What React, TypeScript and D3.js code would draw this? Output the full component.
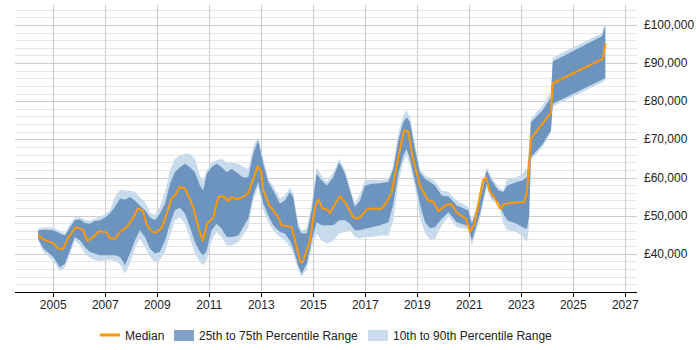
import * as d3 from 'd3';

// Salary percentiles over time (decimal years, GBP)
const bandYears = [
  2004.42, 2004.62, 2005.0, 2005.26, 2005.45, 2005.64, 2005.83, 2006.03, 2006.22, 2006.41,
  2006.6, 2006.8, 2006.99, 2007.18, 2007.37, 2007.57, 2007.76, 2007.95, 2008.14, 2008.33,
  2008.53, 2008.72, 2008.91, 2009.1, 2009.3, 2009.49, 2009.68, 2009.87, 2010.07, 2010.26,
  2010.45, 2010.64, 2010.77, 2010.9, 2011.09, 2011.28, 2011.48, 2011.67, 2011.86, 2012.12,
  2012.3, 2012.5, 2012.69, 2012.88, 2013.08, 2013.27, 2013.46, 2013.72, 2013.91, 2014.1,
  2014.23, 2014.42, 2014.55, 2014.75, 2014.94, 2015.13, 2015.32, 2015.52, 2015.77, 2016.0,
  2016.22, 2016.41, 2016.6, 2016.8, 2016.99, 2017.25, 2017.57, 2017.89, 2018.08, 2018.27,
  2018.46, 2018.59, 2018.72, 2018.91, 2019.1, 2019.3, 2019.49, 2019.68, 2019.94, 2020.2,
  2020.52, 2020.96, 2021.1, 2021.41, 2021.67, 2021.86, 2022.12, 2022.31, 2022.46, 2022.82,
  2023.05, 2023.22, 2023.3, 2023.37, 2023.82, 2024.14, 2024.21, 2026.1, 2026.23,
];

const p10 = [
  43500, 40500, 38100, 35500, 36500, 39900, 43500, 42200, 40100, 39000,
  38300, 38100, 38300, 38300, 38100, 37300, 34800, 37400, 41400, 44000,
  41800, 39200, 37900, 38300, 40500, 44800, 48800, 49600, 47900, 44000,
  40100, 37900, 37000, 38300, 43500, 45700, 44400, 42200, 42200, 43100,
  45000, 47000, 54000, 57500, 51400, 48300, 46200, 44400, 43500, 41800,
  40100, 35700, 33900, 36100, 41800, 45300, 43500, 42700, 43500, 45300,
  45700, 46200, 44400, 44000, 44400, 44400, 44800, 44800, 48800, 58400,
  64000, 65800, 63200, 57500, 49600, 45300, 43800, 43800, 47500, 49800,
  47000, 46500, 42200, 49200, 57500, 54000, 52700, 47900, 46200, 45700,
  44400, 43100, 47000, 64500, 68000, 71900, 78600, 84900, 85500,
];

const p25 = [
  44000, 41400, 39200, 36500, 37400, 40900, 44400, 43500, 41800, 40500,
  40100, 39600, 39600, 39600, 39600, 39200, 37000, 40100, 43500, 46200,
  44400, 41400, 40100, 40500, 43500, 47900, 51400, 52100, 50500, 47000,
  43100, 40500, 39600, 40900, 46200, 47900, 46600, 44400, 44400, 44800,
  47000, 49200, 55300, 58800, 53100, 50100, 47500, 45700, 45300, 43500,
  41400, 37000, 34800, 37400, 43500, 48300, 47500, 47500, 47500, 48800,
  48800, 47900, 46200, 46200, 46600, 47000, 47500, 48300, 53100, 61000,
  65800, 67500, 64900, 59200, 53100, 48300, 46800, 47000, 49200, 50900,
  48300, 47300, 43500, 50500, 58400, 54900, 53600, 50500, 48800, 47900,
  47000, 46600, 50000, 65300, 68800, 72300, 79300, 85600, 86000,
];

const p75 = [
  46200, 46300, 46200, 45300, 44800, 46900, 48800, 49000, 48100, 47900,
  48600, 48800, 49500, 50500, 52300, 54500, 54200, 54900, 54000, 52700,
  51400, 49600, 48800, 50500, 53100, 58400, 61400, 62700, 63600, 62700,
  61400, 57900, 56600, 61000, 62700, 63600, 62700, 61400, 62300, 61000,
  60000, 60100, 66200, 69700, 63600, 58800, 56600, 53100, 54000, 56200,
  54900, 47000, 45300, 45300, 51400, 61000, 59200, 57900, 60100, 64000,
  61000, 56600, 52300, 54000, 57900, 58400, 58500, 58800, 62300, 69700,
  74500, 75800, 74500, 67500, 61400, 59700, 58800, 57900, 55300, 55000,
  52700, 51400, 47900, 54000, 61900, 59200, 56600, 56200, 57900, 58800,
  59200, 60200, 66000, 74500, 77600, 81000, 90400, 97000, 99800,
];

const p90 = [
  46600, 46900, 46900, 46000, 45400, 47700, 49500, 49600, 49000, 48600,
  49200, 49800, 50300, 51400, 54900, 56800, 56600, 56600, 56200, 54900,
  53600, 50900, 50100, 52300, 56200, 61900, 64900, 65800, 66200, 66200,
  64900, 60500, 59200, 61900, 64000, 64500, 64900, 64000, 64000, 63600,
  62800, 62300, 68000, 70600, 64900, 59700, 57700, 54500, 55300, 57300,
  55800, 47900, 46200, 46600, 53100, 62700, 60500, 58800, 61400, 64900,
  61900, 57500, 53100, 55800, 59400, 59400, 59200, 59700, 63200, 71500,
  76300, 77600, 75800, 68800, 62300, 60500, 59900, 59100, 56600, 56200,
  54000, 52300, 48800, 54900, 62700, 60100, 57500, 56600, 59700, 60100,
  61000, 62500, 68000, 75400, 78900, 82400, 91500, 97800, 100900,
];

const medianYears = [
  2004.42, 2004.6, 2005.0, 2005.19, 2005.38, 2005.57, 2005.87, 2006.15, 2006.31, 2006.54,
  2006.76, 2007.05, 2007.18, 2007.37, 2007.59, 2007.82, 2008.02, 2008.25, 2008.44, 2008.59,
  2008.78, 2008.94, 2009.17, 2009.36, 2009.55, 2009.72, 2009.85, 2010.07, 2010.26, 2010.38,
  2010.58, 2010.75, 2010.92, 2011.15, 2011.35, 2011.57, 2011.71, 2011.86, 2012.05, 2012.31,
  2012.5, 2012.67, 2012.86, 2012.98, 2013.08, 2013.31, 2013.65, 2013.78, 2014.17, 2014.36,
  2014.49, 2014.59, 2014.87, 2015.07, 2015.19, 2015.36, 2015.54, 2015.64, 2015.77, 2016.03,
  2016.26, 2016.54, 2016.73, 2016.92, 2017.08, 2017.63, 2017.82, 2018.02, 2018.27, 2018.49,
  2018.65, 2018.82, 2019.1, 2019.42, 2019.62, 2019.81, 2020.13, 2020.32, 2020.52, 2020.87,
  2021.03, 2021.2, 2021.52, 2021.65, 2021.78, 2022.01, 2022.14, 2022.22, 2022.31, 2022.92,
  2023.1, 2023.22, 2023.31, 2023.37, 2024.14, 2024.21, 2026.13, 2026.24,
];

const median = [
  45000, 43800, 42800, 41400, 41300, 44200, 47000, 46200, 43400, 44400,
  45900, 45600, 44100, 43900, 45900, 47000, 48800, 51800, 51400, 47700,
  45900, 45500, 46800, 50500, 54500, 55600, 57500, 57100, 54200, 52300,
  47000, 43400, 47900, 49500, 54900, 55100, 53800, 54900, 54300, 54900,
  55900, 59200, 62900, 61900, 56600, 52700, 49600, 47500, 47000, 41800,
  38100, 37700, 43500, 52300, 54300, 51800, 51600, 50700, 52300, 55100,
  53100, 49600, 49200, 50500, 51800, 51800, 53600, 56200, 65300, 72300,
  72100, 65300, 57900, 54000, 53600, 51200, 52900, 53000, 50800, 49200,
  45700, 47900, 59200, 60000, 56400, 54400, 52300, 51800, 53000, 53600,
  53500, 56200, 64500, 70200, 77000, 84700, 91100, 95200,
];

const yearTicks = [2005, 2007, 2009, 2011, 2013, 2015, 2017, 2019, 2021, 2023, 2025, 2027];
const salaryTicks = [40000, 50000, 60000, 70000, 80000, 90000, 100000];

const FONT = '"Liberation Sans", Arial, sans-serif';
const ORANGE = '#ff9900';
const DARK = '#6d94be';
const LIGHT = '#c8dbec';

export default function App() {
  const width = 700;
  const height = 350;
  const left = 15;
  const right = 637;
  const top = 5;
  const bottom = 292;

  const x = d3.scaleLinear().domain([2003.53, 2027.45]).range([left, right]);
  const y = d3.scaleLinear().domain([30000, 105000]).range([bottom, top + 0.8]);

  const idx = d3.range(bandYears.length);

  const outer = d3
    .area<number>()
    .x(i => x(bandYears[i]))
    .y0(i => y(p10[i]))
    .y1(i => y(p90[i]));

  const inner = d3
    .area<number>()
    .x(i => x(bandYears[i]))
    .y0(i => y(p25[i]))
    .y1(i => y(p75[i]));

  const medianLine = d3
    .line<number>()
    .x(i => x(medianYears[i]))
    .y(i => y(median[i]));

  const minorGrid = d3.range(32000, 105000, 2000);
  const fmt = (v: number) => '£' + d3.format(',')(v);

  return (
    <svg
      width={width}
      height={height}
      style={{ position: 'absolute', left: 0, top: 0, background: '#fff' }}
      fontFamily={FONT}
    >
      {/* horizontal grid */}
      {minorGrid.map(v => (
        <line
          key={'h' + v}
          x1={left}
          x2={right}
          y1={Math.round(y(v)) + 0.5}
          y2={Math.round(y(v)) + 0.5}
          stroke={v % 10000 === 0 ? '#cccccc' : '#e6e6e6'}
          strokeWidth={1}
        />
      ))}
      {/* vertical grid */}
      {yearTicks.map(t => (
        <line
          key={'v' + t}
          x1={Math.round(x(t)) + 0.5}
          x2={Math.round(x(t)) + 0.5}
          y1={top}
          y2={bottom}
          stroke="#cccccc"
        />
      ))}

      <path d={outer(idx) ?? ''} fill={LIGHT} strokeLinejoin="round" />
      <path d={inner(idx) ?? ''} fill={DARK} strokeLinejoin="round" />
      <path
        d={medianLine(d3.range(medianYears.length)) ?? ''}
        fill="none"
        stroke={ORANGE}
        strokeWidth={2}
        strokeLinejoin="round"
      />

      {/* x axis */}
      <line x1={left} x2={right} y1={bottom + 0.5} y2={bottom + 0.5} stroke="#000" />
      {yearTicks.map(t => (
        <g key={'t' + t}>
          <line
            x1={Math.round(x(t)) + 0.5}
            x2={Math.round(x(t)) + 0.5}
            y1={bottom}
            y2={bottom + 5}
            stroke="#000"
          />
          <text x={x(t)} y={bottom + 17} textAnchor="middle" fontSize={12} fill="#222">
            {t}
          </text>
        </g>
      ))}

      {/* y labels */}
      {salaryTicks.map(v => (
        <text key={'y' + v} x={644} y={y(v) + 4} fontSize={12} fill="#222">
          {fmt(v)}
        </text>
      ))}

      {/* legend */}
      <g fontSize={12} fill="#222">
        <line x1={100} x2={120} y1={335} y2={335} stroke={ORANGE} strokeWidth={3} />
        <text x={125} y={339.5}>Median</text>
        <rect x={174} y={330} width={20} height={11} fill="#82a3c7" />
        <text x={199} y={339.5}>25th to 75th Percentile Range</text>
        <rect x={368} y={330} width={20} height={11} fill="#ccdcec" />
        <text x={393} y={339.5}>10th to 90th Percentile Range</text>
      </g>
    </svg>
  );
}
